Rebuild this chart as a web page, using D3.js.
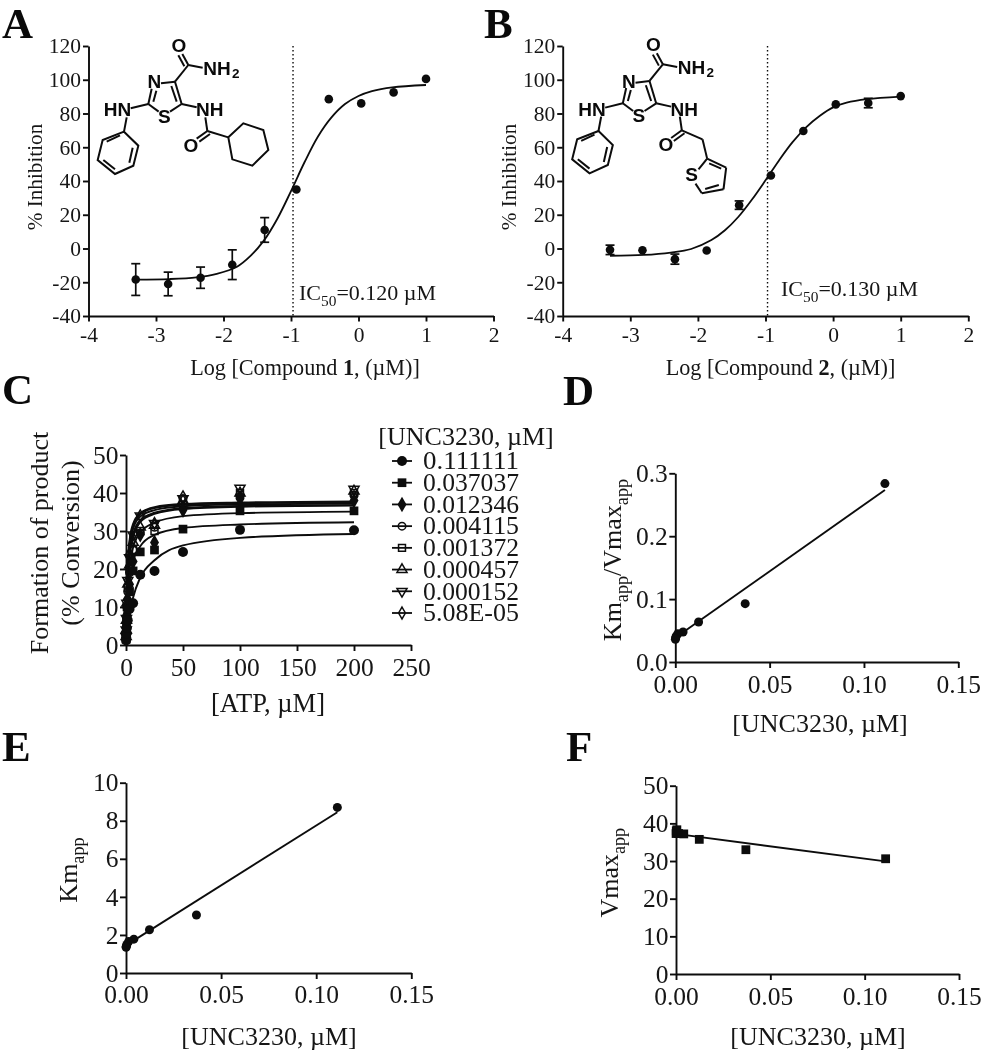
<!DOCTYPE html>
<html><head><meta charset="utf-8">
<script src="https://cdn.jsdelivr.net/npm/d3@7/dist/d3.min.js"></script>
<style>html,body{margin:0;padding:0;background:#fff}svg{display:block;filter:blur(0.35px)}
text{font-family:"Liberation Serif",serif;fill:#161616}</style></head>
<body><svg id="c" width="982" height="1050"></svg>
<script>
// ---------- data ----------
const logDose=[-3.3,-2.82,-2.34,-1.87,-1.39,-0.92,-0.44,0.04,0.52,1.0];
const inhibA=[-18.4,-21,-17.3,-9.6,11,35,88.5,86,92.5,100.5];
const errA=[9.4,7,6.3,8.8,7.3,0,0,0,0,0];
const inhibB=[-0.8,-1,-6.3,-1.2,25.7,43.3,69.6,85.4,86.2,90.3];
const errB=[2.8,0,3,0,2.5,0,0,0,2.8,0];
const fitX=[-3.3,-2.8,-2.4,-2.1,-1.8,-1.6,-1.4,-1.2,-1,-0.8,-0.6,-0.4,-0.2,0,0.2,0.5,1];
const fitA=[-18.4,-18.1,-17.1,-15,-10.8,-4.4,4.8,17.8,34,51.1,66.4,77.7,85.6,90.4,93.3,95.5,96.9];
const fitB=[-4.3,-3.8,-2.4,-0.3,5,10.8,18.8,29,40.4,52.2,63,71.8,78.5,83.6,86.4,88.5,90];
const ic50LineX=-0.97;
const xTicksAB=[-4,-3,-2,-1,0,1,2];
const yTicksAB=[-40,-20,0,20,40,60,80,100,120];

const atp=[0.098,0.195,0.39,0.78,1.56,3.125,6.25,12.5,25,50,100,200];
const concLabels=["0.111111","0.037037","0.012346","0.004115","0.001372","0.000457","0.000152","5.08E-05"];
const pts1=[1.2,2,3,4.5,6.5,9.5,11,18.5,19.5,24.5,30.3,30.2];
const pts2=[1.5,2.5,4,6.5,9.5,14,19.5,24.5,25,30.5,35.3,35.3];
const pts3=[1.8,3,5,8,12,16,22,29,27,35.5,38.5,38];
const pts4=[2,3.5,6,10,14,19,25,29.5,31,38.5,39,39.5];
const pts5=[2,3.5,6,10,15,20,25,30,30,37,40,40];
const pts6=[2.2,4,6.5,11,16,21,27,31,31.5,38,40,40.5];
const pts7=[2.2,4,7,11,17,23,29,34,32,38.5,41.3,41];
const pts8=[2.5,4.5,7,12,17,24,28,34,32,39,39,39];
const fit1=[0.33,0.7,1.3,2.5,4.5,7.9,12.5,17.7,22.3,26.2,28.2,29.2];
const fit2=[1,2,3.6,6.5,10.9,16.3,21.8,26,29,30.8,31.7,32.3];
const fit3=[1.5,2.8,5,8.7,14,20,25.7,29.6,32.2,33.9,34.7,35.1];
const fit4=[2,3.7,6.4,11,17,23,28.3,32.4,34.5,35.8,36.4,36.7];
const fit5=[2.1,4,7,12,18,24,29.2,32.9,34.8,36,36.6,36.8];
const fit6=[2.5,4.7,8.2,13.4,19.7,25.9,30.6,33.8,35.5,36.5,37,37.2];
const fit7=[2.8,5.1,9,14.6,20.9,27,31.4,34.4,36,36.9,37.3,37.6];
const fit8=[2.9,5.3,9.3,15,21.5,27.5,31.9,34.7,36.3,37.1,37.5,37.8];
const ptsC=[pts1,pts2,pts3,pts4,pts5,pts6,pts7,pts8];
const fitsC=[fit1,fit2,fit3,fit4,fit5,fit6,fit7,fit8];

const conc=[0.111111,0.037037,0.012346,0.004115,0.001372,0.000457,0.000152,0.0000508];
const ratioD=[0.2836,0.0928,0.0636,0.0477,0.045,0.041,0.038,0.036];
const lineD=[[0,0.0385],[0.111111,0.2735]];
const kmE=[8.7,3.05,2.27,1.78,1.65,1.5,1.4,1.35];
const lineE=[[0,1.45],[0.111111,8.45]];
const vmaxF=[30.6,33,35.75,37.2,37.3,38.3,38,37.3];
const lineF=[[0,37.2],[0.111111,29.9]];
const xTicksConc=[0,0.05,0.1,0.15];

// ---------- helpers ----------
const svg=d3.select("#c");
const ink="#0c0c0c";
const line=(x,y,curve)=>d3.line().x(d=>x(d[0])).y(d=>y(d[1])).curve(curve||d3.curveLinear);
function axes(g,x,y,xt,yt,o){
  const fs=o.fs, xf=o.xf||(d=>d), yf=o.yf||(d=>d);
  const ax=g.append("g").attr("transform",`translate(0,${y.range()[0]})`)
    .call(d3.axisBottom(x).tickValues(xt).tickFormat(xf).tickSize(o.ts||5.5).tickSizeOuter(0));
  const ay=g.append("g").attr("transform",`translate(${x.range()[0]},0)`)
    .call(d3.axisLeft(y).tickValues(yt).tickFormat(yf).tickSize(o.ts||5.5).tickSizeOuter(0));
  [ax,ay].forEach(a=>{
    a.selectAll("path,line").attr("stroke",ink).attr("stroke-width",1.9);
    a.selectAll("text").attr("font-size",fs).attr("font-family","Liberation Serif").attr("fill","#161616");
  });
  ax.selectAll("text").attr("y",o.xb).attr("dy",0);
  ay.selectAll("text").attr("x",-o.yp);
}
function rich(g,x,y,fs,parts,opt){
  opt=opt||{};
  const t=g.append("text").attr("font-size",fs).attr("text-anchor",opt.anchor||"middle")
    .attr("transform",opt.rot?`translate(${x},${y}) rotate(-90)`:`translate(${x},${y})`);
  let prev=0;
  parts.forEach(p=>{
    const s=t.append("tspan").text(p[0]);
    const k=p[1]||"";
    const off=k==="sub"?fs*0.27:0;
    if(off!==prev) s.attr("dy",off-prev);
    prev=off;
    if(k==="sub") s.attr("font-size",fs*0.7);
    if(k==="b") s.attr("font-weight","bold");
  });
  return t;
}
function letter(t,x,y){svg.append("text").text(t).attr("x",x).attr("y",y).attr("font-size",43).attr("font-weight","bold").attr("style","fill:#0a0a0a");}

// ---------- panels A, B ----------
function dose(px0,px1,vals,errs,fit,icTxt,icX,icY,num,xlabC,ylabX){
  const x=d3.scaleLinear([-4,2],[px0,px1]), y=d3.scaleLinear([-40,120],[316,46]);
  const g=svg.append("g");
  axes(g,x,y,xTicksAB,yTicksAB,{fs:21.5,xb:26,yp:7.5});
  g.append("line").attr("x1",x(ic50LineX)).attr("x2",x(ic50LineX)).attr("y1",y(120)).attr("y2",y(-40))
    .attr("stroke",ink).attr("stroke-width",1.4).attr("stroke-dasharray","1.6 2.4");
  g.append("path").datum(fitX.map((d,i)=>[d,fit[i]])).attr("d",line(x,y,d3.curveCatmullRom)).attr("fill","none").attr("stroke",ink).attr("stroke-width",1.8);
  logDose.forEach((d,i)=>{
    if(errs[i]){
      const c=x(d);
      [[c,c,y(vals[i]-errs[i]),y(vals[i]+errs[i])],[c-4.5,c+4.5,y(vals[i]-errs[i]),y(vals[i]-errs[i])],[c-4.5,c+4.5,y(vals[i]+errs[i]),y(vals[i]+errs[i])]]
      .forEach(l=>g.append("line").attr("x1",l[0]).attr("x2",l[1]).attr("y1",l[2]).attr("y2",l[3]).attr("stroke",ink).attr("stroke-width",1.7));
    }
    g.append("circle").attr("cx",x(d)).attr("cy",y(vals[i])).attr("r",4.3).attr("fill",ink);
  });
  rich(g,icX,icY,22,[["IC"],["50","sub"],["=0.1"+icTxt+" µM"]],{anchor:"start"});
  rich(g,xlabC,375,22.2,[["Log [Compound "],[num,"b"],[", (µM)]"]]);
  rich(g,ylabX,177,21.2,[["% Inhibition"]],{rot:true});
}
dose(88.5,493.5,inhibA,errA,fitA,"20",299,300,'1',305,41.7);
dose(562.7,968.3,inhibB,errB,fitB,"30",781,296,'2',780.5,516);
letter("A",2,37.5);letter("B",484,37.5);letter("C",2,404);letter("D",563,405);letter("E",2,761);letter("F",566,761);

// ---------- chemical structures ----------
const coreBonds=[[565,195,547,162],[553,199,535,166],[565,195,608,203],[525,245,565,195],[483,250,525,245],
 [455,266,445,312],[469,272,460,305],[445,312,476,335],[510,335,545,312],[545,312,525,245],[530,305,514,258],
 [445,312,392,325],[380,352,372,395],[545,312,590,322],[616,352,622,393]];
const phenylRing=[[372,395],[415,437],[400,497],[345,522],[293,480],[308,420]];
const phenylInner=[[398,443,388,488],[345,508,310,480],[320,425,360,406]];
const coreText=[["O",537,155,19],["N",463,265,19],["NH",610,224,19],["2",707,234,13.5],["HN",311,349,19],["S",493,368,19],["NH",588,349,19]];
const hexRing=[[685,412],[730,370],[790,390],[805,450],[757,497],[697,478]];
const tailA=[[622,393,590,416],[630,402,598,425],[622,393,685,412]];
const tailATxt=[["O",573,456,19]];
const tailB=[[622,393,590,416],[630,402,598,425],[622,393,684,420],[684,420,698,478],[698,478,755,505],[755,505,747,570],[747,570,682,582],[682,582,663,553],[698,478,672,510],[704,492,740,508],[733,557,692,569]];
const tailBTxt=[["O",574,456,19],["S",651,544,19]];
function structure(zx,zy,ringPts,tail,tailTxt){
  const sx=d3.scaleLinear([0,3],[zx,zx+1]),sy=d3.scaleLinear([0,3],[zy,zy+1]);
  const g=svg.append("g").attr("stroke",ink).attr("stroke-width",2).attr("fill","none");
  const seg=b=>g.append("line").attr("x1",sx(b[0])).attr("y1",sy(b[1])).attr("x2",sx(b[2])).attr("y2",sy(b[3]));
  coreBonds.forEach(seg);tail.forEach(seg);phenylInner.forEach(seg);
  const ring=d3.line().x(d=>sx(d[0])).y(d=>sy(d[1])).curve(d3.curveLinearClosed);
  g.append("path").attr("d",ring(phenylRing));
  if(ringPts) g.append("path").attr("d",ring(ringPts));
  coreText.concat(tailTxt).forEach(t=>{
    svg.append("text").text(t[0]).attr("x",sx(t[1])).attr("y",sy(t[2]))
      .attr("font-size",t[3]).attr("font-weight","bold").attr("style","font-family:'Liberation Sans',Arial,sans-serif;fill:#0a0a0a")
      .attr("text-anchor",t[0]==="HN"||t[0]==="NH"?"start":"middle");
  });
}
structure(0,0,hexRing,tailA,tailATxt);
structure(474.5,-0.7,null,tailB,tailBTxt);

// ---------- panel C ----------
{
  const x=d3.scaleLinear([0,250],[126,411]), y=d3.scaleLinear([0,50],[645,455]);
  const g=svg.append("g");
  axes(g,x,y,[0,50,100,150,200,250],[0,10,20,30,40,50],{fs:25.5,xb:30.5,yp:7.5,ts:6});
  fitsC.forEach(f=>g.append("path").datum(atp.map((d,i)=>[d,f[i]])).attr("d",line(x,y,d3.curveMonotoneX)).attr("fill","none").attr("stroke",ink).attr("stroke-width",1.9));
  const marks=[
    {t:d3.symbolCircle,s:78,fill:true},{t:d3.symbolSquare,s:76,fill:true},{t:d3.symbolDiamond,s:70,fill:true},
    {t:d3.symbolCircle,s:44},{t:d3.symbolSquare,s:48},{t:d3.symbolTriangle,s:44},{t:d3.symbolTriangle,s:44,rot:180},{t:d3.symbolDiamond,s:40}];
  const drawMark=(gg,m,cx,cy)=>gg.append("path").attr("d",d3.symbol(m.t,m.s)())
    .attr("transform",`translate(${cx},${cy}) rotate(${m.rot||0})`)
    .attr("fill",m.fill?ink:"none").attr("stroke",ink).attr("stroke-width",m.fill?0:1.5);
  [7,6,5,4,3,2,1,0].forEach(k=>ptsC[k].forEach((v,i)=>drawMark(g,marks[k],x(atp[i]),y(v))));
  rich(g,48,543,26,[["Formation of product"]],{rot:true});
  rich(g,79,543,26,[["(% Conversion)"]],{rot:true});
  rich(g,268,712,26.5,[["[ATP, µM]"]]);
  const rowY=d3.scaleLinear([0,7],[461,613]);
  rich(g,466,445,26,[["[UNC3230, µM]"]]);
  concLabels.forEach((l,i)=>{
    g.append("line").attr("x1",392).attr("x2",412).attr("y1",rowY(i)).attr("y2",rowY(i)).attr("stroke",ink).attr("stroke-width",1.8);
    drawMark(g,marks[i],402,rowY(i));
    g.append("text").text(l).attr("x",423).attr("y",rowY(i)+8.3).attr("font-size",25)
      .attr("textLength",96).attr("lengthAdjust","spacingAndGlyphs");
  });
}

// ---------- panels D, E, F ----------
function lin(px0,px1,py0,py1,yMax,yt,yf,vals,fitLine,ylab,ylabX,ylabY,xb,xlabC,xlabB,square){
  const x=d3.scaleLinear([0,0.15],[px0,px1]), y=d3.scaleLinear([0,yMax],[py0,py1]);
  const g=svg.append("g");
  axes(g,x,y,xTicksConc,yt,{fs:25.5,xb:xb,yp:7.5,xf:d3.format(".2f"),yf:yf,ts:6});
  g.append("path").datum(fitLine).attr("d",line(x,y)).attr("fill","none").attr("stroke",ink).attr("stroke-width",1.9);
  conc.forEach((c,i)=>{
    if(square) g.append("rect").attr("x",x(c)-4.4).attr("y",y(vals[i])-4.4).attr("width",8.8).attr("height",8.8).attr("fill",ink);
    else g.append("circle").attr("cx",x(c)).attr("cy",y(vals[i])).attr("r",4.5).attr("fill",ink);
  });
  rich(g,ylabX,ylabY,26,ylab,{rot:true});
  rich(g,xlabC,xlabB,26,[["[UNC3230, µM]"]]);
}
lin(675.3,958.3,662,473.3,0.3,[0,0.1,0.2,0.3],d3.format(".1f"),ratioD,lineD,[["Km"],["app","sub"],["/Vmax"],["app","sub"]],621,560,30.5,820,732,false);
lin(126,411.3,973,782.7,10,[0,2,4,6,8,10],d=>d,kmE,lineE,[["Km"],["app","sub"]],76.7,870,30,269,1045,false);
lin(676,959,974,785.7,50,[0,10,20,30,40,50],d=>d,vmaxF,lineF,[["Vmax"],["app","sub"]],618,872.7,31,818,1045,true);
</script></body></html>
